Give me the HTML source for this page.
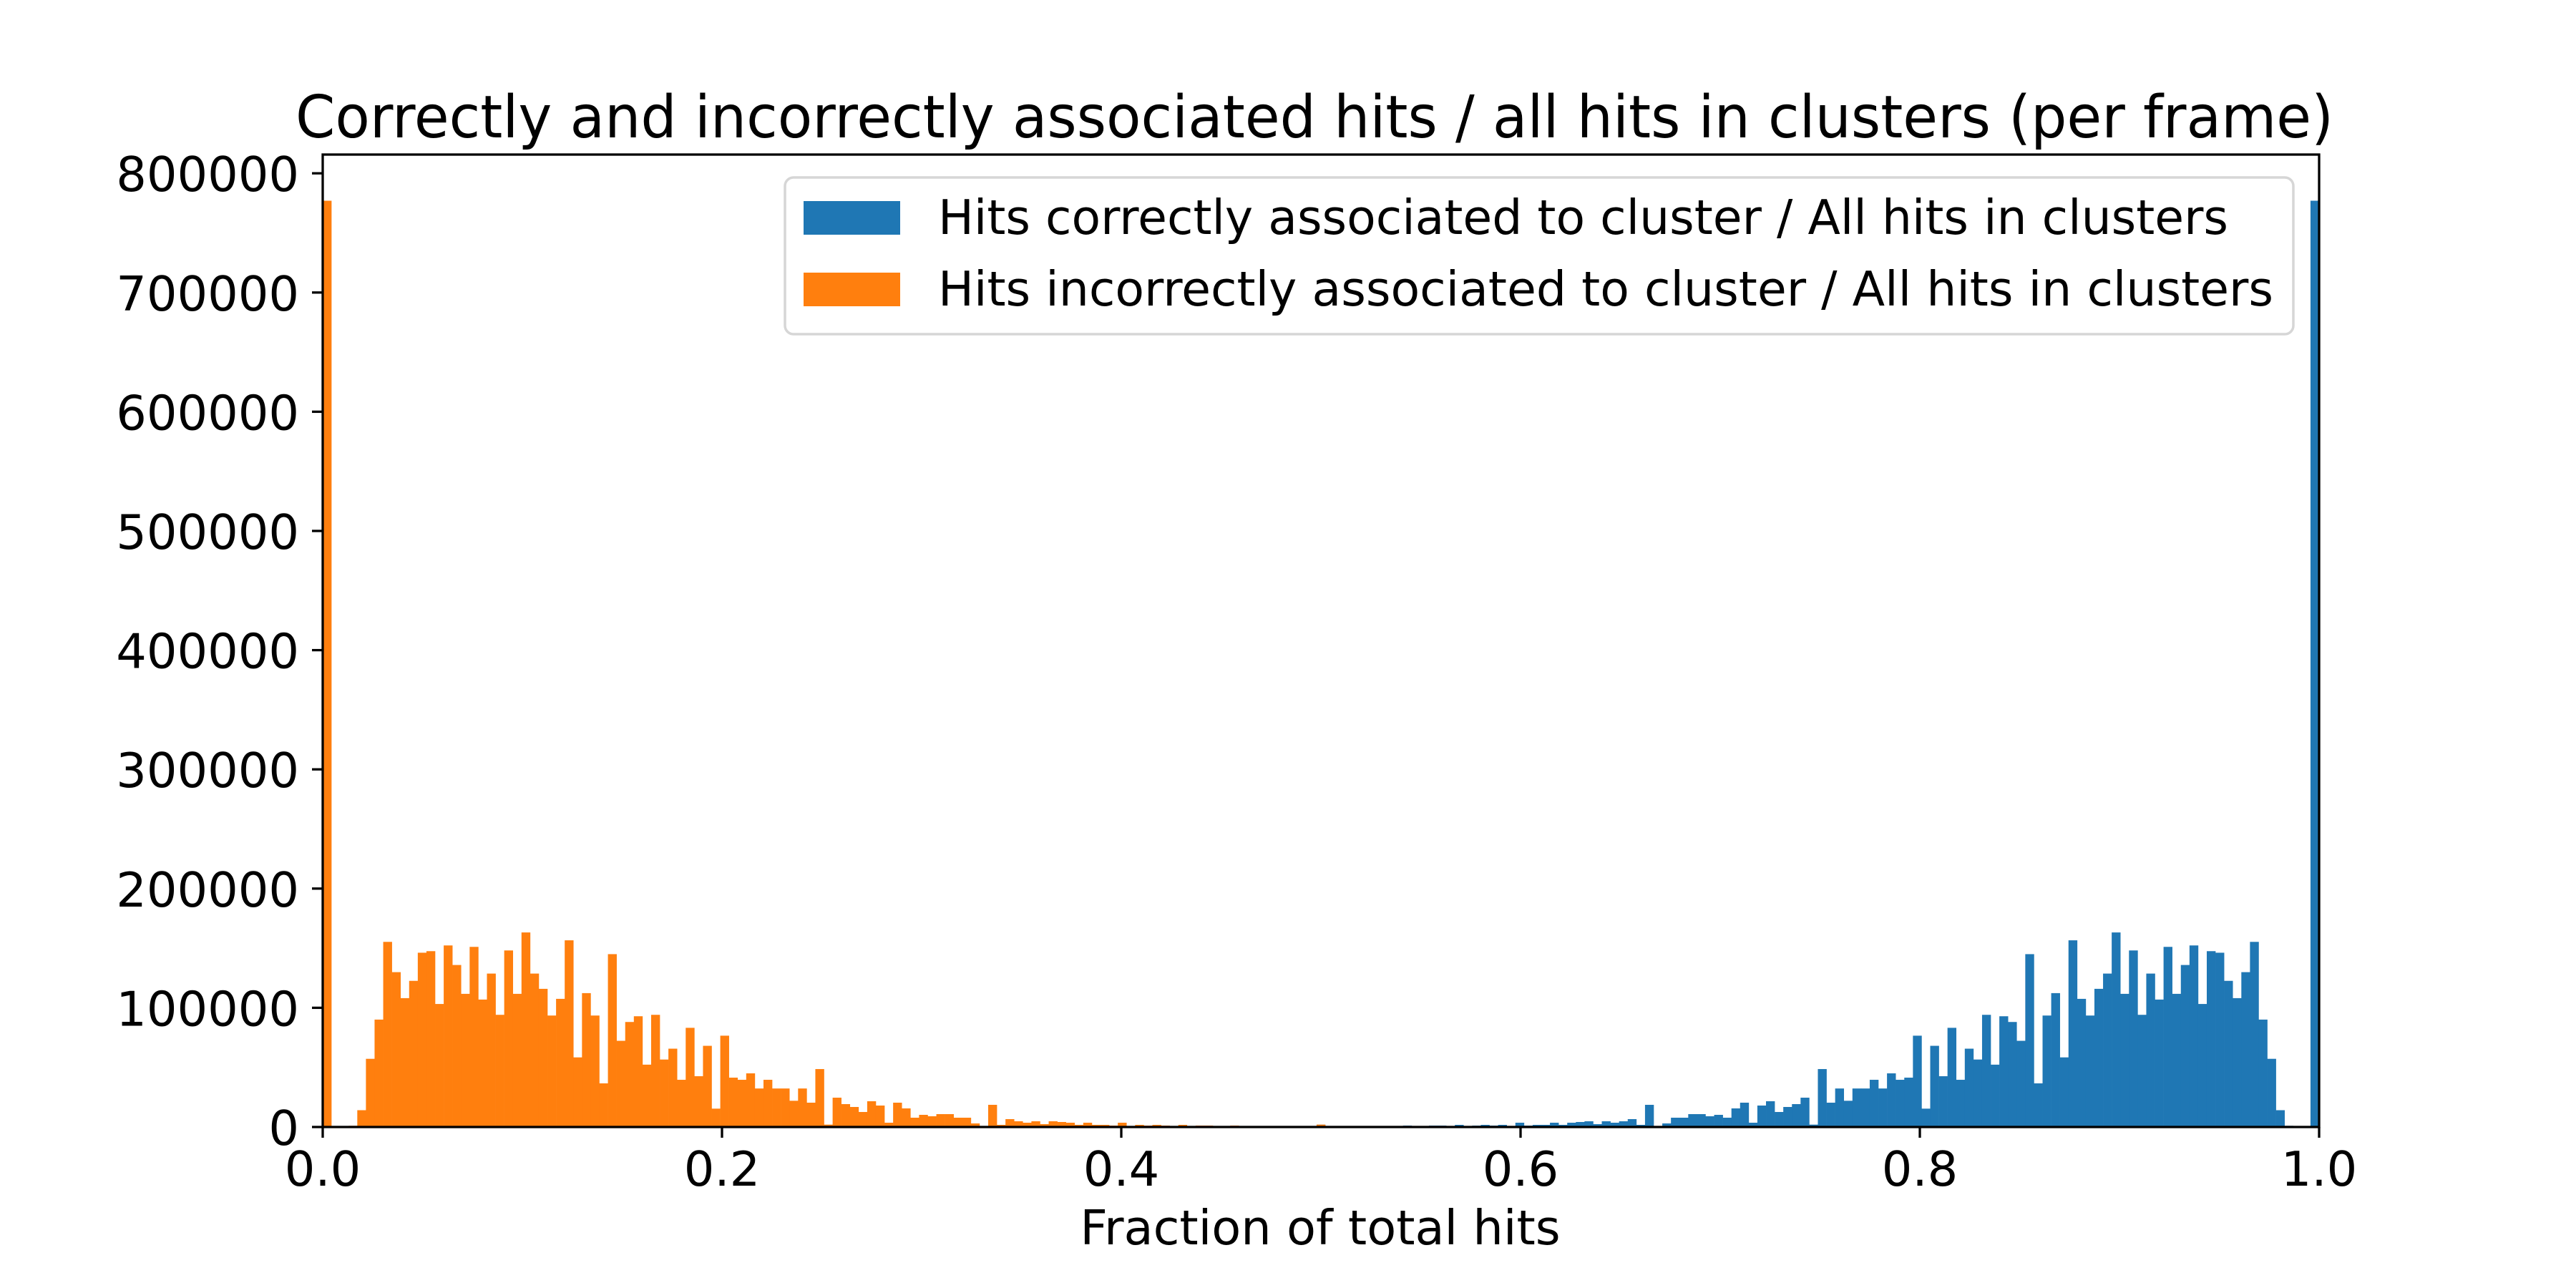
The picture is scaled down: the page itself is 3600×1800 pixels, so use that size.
<!DOCTYPE html>
<html><head><meta charset="utf-8"><style>
html,body{margin:0;padding:0;background:#fff}
svg{display:block}
text{font-family:"DejaVu Sans","Liberation Sans",sans-serif;fill:#000}
</style></head><body>
<svg id="chart" width="3600" height="1800" viewBox="0 0 3600 1800" xmlns="http://www.w3.org/2000/svg">
<rect width="3600" height="1800" fill="#fff"/>
<text x="413" y="192" font-size="82" textLength="2848" lengthAdjust="spacingAndGlyphs">Correctly and incorrectly associated hits / all hits in clusters (per frame)</text>
<g id="bars-blue"></g>
<g id="bars-orange"></g>
<g id="axes"></g>
<g>
<rect x="1097" y="248" width="2108" height="219" rx="12" fill="#fff" fill-opacity="0.8" stroke="#d6d6d6" stroke-width="3.5"/>
<rect x="1123" y="281" width="135" height="47" fill="#1f77b4"/>
<text x="1311" y="327" font-size="67" textLength="1803" lengthAdjust="spacingAndGlyphs">Hits correctly associated to cluster / All hits in clusters</text>
<rect x="1123" y="381" width="135" height="47" fill="#ff7f0e"/>
<text x="1311" y="427" font-size="67" textLength="1866" lengthAdjust="spacingAndGlyphs">Hits incorrectly associated to cluster / All hits in clusters</text>
</g>
<text x="1845" y="1739" font-size="67" text-anchor="middle">Fraction of total hits</text>
</svg>
<script>
const NBINS = 231;
const orangeValues = [777000,0,0,1000,14100,57200,90100,155300,129900,108100,122600,146200,147500,103200,152300,135900,111700,151100,106900,128700,94100,148100,111700,163200,128700,115900,93500,107500,156600,58400,112300,93500,36600,145000,72300,88100,92900,52300,94100,56600,65700,39600,83200,42600,68100,15400,76600,41400,39600,45000,32300,39600,32300,32300,22000,32300,20400,48600,2000,24600,19200,16800,12600,21600,18000,3600,20400,15600,7800,10200,9000,10800,10800,7800,7800,3000,0,18600,1800,6600,4800,3600,4800,2400,4800,4200,3600,1800,3600,1800,1800,1200,3600,600,1800,1200,1800,1200,0,1800,600,1200,1200,600,0,1200,600,600,0,0,600,0,0,0,0,2000];
const blueValues = [0,0,0,0,0,0,0,0,0,0,0,0,0,0,0,0,0,0,0,0,0,0,0,0,0,0,0,0,0,0,0,0,0,0,0,0,0,0,0,0,0,0,0,0,0,0,0,0,0,0,0,0,0,0,0,0,0,0,0,0,0,0,0,0,0,0,0,0,0,0,0,0,0,0,0,0,0,0,0,0,0,0,0,0,0,0,0,0,0,0,0,0,0,0,0,0,0,0,0,0,0,0,0,0,0,0,0,0,0,0,0,0,0,0,0,2000,0,0,0,0,600,0,0,600,600,1200,0,600,1200,1200,600,1800,0,1200,1800,1200,1800,600,3600,1200,1800,1800,3600,1800,3600,4200,4800,2400,4800,3600,4800,6600,1800,18600,0,3000,7800,7800,10800,10800,9000,10200,7800,15600,20400,3600,18000,21600,12600,16800,19200,24600,2000,48600,20400,32300,22000,32300,32300,39600,32300,45000,39600,41400,76600,15400,68100,42600,83200,39600,65700,56600,94100,52300,92900,88100,72300,145000,36600,93500,112300,58400,156600,107500,93500,115900,128700,163200,111700,148100,94100,128700,106900,151100,111700,135900,152300,103200,147500,146200,122600,108100,129900,155300,90100,57200,14100,1000,0,0,777000];
const xTicks = [0, 0.2, 0.4, 0.6, 0.8, 1.0];
const xTickLabels = ["0.0","0.2","0.4","0.6","0.8","1.0"];
const yTicks = [0,100000,200000,300000,400000,500000,600000,700000,800000];
const yTickLabels = ["0","100000","200000","300000","400000","500000","600000","700000","800000"];

const NS = "http://www.w3.org/2000/svg";
const X0 = 451, X1 = 3241, Y0 = 1575, YTOP = 216;
const PX_PER_UNIT = 166.6 / 100000;
function xScale(v){ return X0 + v * (X1 - X0); }
function yScale(v){ return Y0 - v * PX_PER_UNIT; }
function mk(tag, attrs){ const e = document.createElementNS(NS, tag); for (const k in attrs) e.setAttribute(k, attrs[k]); return e; }

function drawSeries(gid, vals, color, nameBase){
  const g = document.getElementById(gid);
  const w = 1 / NBINS;
  vals.forEach((v, i) => {
    if (v <= 0) return;
    const xa = xScale(i * w), xb = xScale((i + 1) * w);
    const r = mk('rect', {x: xa, y: yScale(v), width: xb - xa + 0.3, height: Y0 - yScale(v), fill: color});
    
    
    g.appendChild(r);
  });
}
drawSeries('bars-blue', blueValues, '#1f77b4', 'bar-correct');
drawSeries('bars-orange', orangeValues, '#ff7f0e', 'bar-incorrect');

const ax = document.getElementById('axes');
const frame = mk('rect', {x: X0, y: YTOP, width: X1 - X0, height: Y0 - YTOP, fill: 'none', stroke: '#000', 'stroke-width': 3.3});


ax.appendChild(frame);
xTicks.forEach((t, i) => {
  const x = xScale(t);
  const l = mk('line', {x1: x, x2: x, y1: Y0, y2: Y0 + 15, stroke: '#000', 'stroke-width': 3.3});
  
  
  ax.appendChild(l);
  const tx = mk('text', {x: x, y: 1657, 'font-size': 67, 'text-anchor': 'middle'});
  
  
  tx.textContent = xTickLabels[i];
  ax.appendChild(tx);
});
yTicks.forEach((t, i) => {
  const y = yScale(t);
  const l = mk('line', {x1: X0 - 15, x2: X0, y1: y, y2: y, stroke: '#000', 'stroke-width': 3.3});
  
  
  ax.appendChild(l);
  const tx = mk('text', {x: 418, y: y + 25, 'font-size': 67, 'text-anchor': 'end'});
  
  
  tx.textContent = yTickLabels[i];
  ax.appendChild(tx);
});
</script>
</body></html>
